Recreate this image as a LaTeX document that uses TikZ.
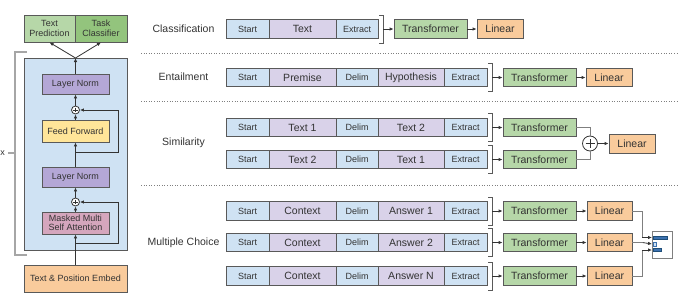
\documentclass[tikz,border=0pt]{standalone}
\usepackage{fontspec}
\setmainfont{Liberation Sans}
\usetikzlibrary{arrows.meta,calc}
\definecolor{tokb}{HTML}{CFE2F3}
\definecolor{tokp}{HTML}{D9D2E9}
\definecolor{tfg}{HTML}{B6D7A8}
\definecolor{tcg}{HTML}{93C47D}
\definecolor{lino}{HTML}{F9CB9C}
\definecolor{lnp}{HTML}{B4A7D6}
\definecolor{ffy}{HTML}{FFE599}
\definecolor{mmp}{HTML}{D5A6BD}
\definecolor{bord}{HTML}{595959}
\definecolor{txt}{HTML}{333333}
\definecolor{arrc}{HTML}{333333}
\definecolor{grl}{HTML}{7F7F7F}
\definecolor{brg}{HTML}{A6A6A6}
\definecolor{barb}{HTML}{3D72B0}
\definecolor{bard}{HTML}{1F4E79}
\newcommand\mybrk[2]{\draw[brkst] ({#1+1},{#2-14}) -- ({#1+5},{#2-14}) -- ({#1+5},{#2+14}) -- ({#1+1},{#2+14});}
\begin{document}
\begin{tikzpicture}[x=1pt,y=-1pt,
  box/.style={draw=bord,line width=0.8pt,inner sep=0pt,text=txt,align=center},
  sm/.style={font=\fontsize{9}{10.5}\selectfont},
  lg/.style={font=\fontsize{10.5}{12}\selectfont},
  tokB/.style={box,sm,fill=tokb,minimum height=18.5pt},
  tokP/.style={box,lg,fill=tokp,minimum height=18.5pt},
  tfst/.style={box,lg,fill=tfg,minimum width=73pt,minimum height=18.5pt},
  linst/.style={box,lg,fill=lino,minimum width=46pt,minimum height=18.5pt},
  lbl/.style={text=txt,font=\fontsize{10.5}{12}\selectfont,inner sep=0pt},
  lp/.style={box,sm,minimum width=67pt},
  arr/.style={-{Latex[length=4pt,width=3.5pt]},line width=0.8pt,draw=arrc},
  gline/.style={line width=0.8pt,draw=grl},
  garr/.style={gline,-{Latex[length=4pt,width=3.5pt]}},
  brkst/.style={line width=0.8pt,draw=bord},
  sep/.style={line width=0.6pt,draw=grl,dotted},
  pc/.style={circle,draw=arrc,fill=white,line width=0.8pt,inner sep=0pt},
]
\useasboundingbox (0,0) rectangle (696,300);

% ---------------- left panel ----------------
\draw[line width=1.2pt,draw=brg] (27,52) -- (15,52) -- (15,255) -- (27,255);
\draw[line width=1.2pt,draw=brg] (8,153) -- (15,153);
\node[anchor=west,inner sep=0pt,text=txt,font=\fontsize{9}{10}\selectfont] (rep) at (0.3,153) {x};

\node[box,sm,fill=tokb,minimum width=103pt,minimum height=192pt] (big) at (75.5,154) {};
\node[box,sm,fill=tfg,minimum width=51pt,minimum height=27pt] (tpred) at (49.5,28.5) {Text\\[-1pt]Prediction};
\node[box,sm,fill=tcg,minimum width=52pt,minimum height=27pt] (tcls) at (101,28.5) {Task\\[-1pt]Classifier};
\node[lp,fill=lnp,minimum height=20pt] (ln2) at (75.5,84) {Layer Norm};
\node[pc,minimum size=8pt] (p2) at (75.5,110) {};
\node[lp,fill=ffy,minimum height=22pt] (ff) at (75.5,131) {Feed Forward};
\node[lp,fill=lnp,minimum height=20pt] (ln1) at (75.5,177) {Layer Norm};
\node[pc,minimum size=8pt] (p1) at (75.5,202) {};
\node[lp,fill=mmp,minimum height=22pt] (mm) at (75.5,223) {Masked Multi\\[-1pt]Self Attention};
\node[box,sm,fill=lino,minimum width=103pt,minimum height=27pt] (emb) at (75.5,278.5) {Text \& Position Embed};

\foreach \c in {p1,p2}{
  \draw[line width=0.8pt,draw=arrc] ($(\c.center)+(-2.4,0)$) -- ($(\c.center)+(2.4,0)$);
  \draw[line width=0.8pt,draw=arrc] ($(\c.center)+(0,-2.4)$) -- ($(\c.center)+(0,2.4)$);
}
\coordinate (apex) at (75.5,58);
\coordinate (r1) at (75.5,243);
\coordinate (r2) at (75.5,152);
\draw[arr] (emb.north) -- (mm.south);
\draw[arr] (mm.north) -- (p1.south);
\draw[arr] (p1.north) -- (ln1.south);
\draw[arr] (ln1.north) -- (ff.south);
\draw[arr] (ff.north) -- (p2.south);
\draw[arr] (p2.north) -- (ln2.south);
\draw[arr] (ln2.north) -- (apex);
\draw[arr] (apex) -- (tpred.south);
\draw[arr] (apex) -- (tcls.south);
\draw[arr] (r1) -- (118,243) |- (p1.east);
\draw[arr] (r2) -- (118,152) |- (p2.east);

% ---------------- separators ----------------
\draw[sep] (141,53) -- (678,53);
\draw[sep] (141,101) -- (678,101);
\draw[sep] (141,185) -- (678,185);

% ---------------- labels ----------------
\node[lbl] (lcls) at (183.5,29) {Classification};
\node[lbl] (lent) at (183.5,77) {Entailment};
\node[lbl] (lsim) at (183.5,143) {Similarity};
\node[lbl] (lmc) at (183.5,243) {Multiple Choice};

% ---------------- classification ----------------
\node[tokB,minimum width=43pt] (c1) at (247.5,29) {Start};
\node[tokP,minimum width=67pt] (c2) at (302.5,29) {Text};
\node[tokB,minimum width=42pt] (c3) at (357,29) {Extract};
\mybrk{378}{29}
\coordinate (cb) at (383,29);
\node[tfst] (ct) at (430.5,29) {Transformer};
\node[linst] (cl) at (500,29) {Linear};
\draw[arr] (cb) -- (ct.west);
\draw[arr] (ct.east) -- (cl.west);

% ---------------- entailment ----------------
\node[tokB,minimum width=43pt] (e1) at (247.5,77.5) {Start};
\node[tokP,minimum width=67pt] (e2) at (302.5,77.5) {Premise};
\node[tokB,minimum width=42pt] (e3) at (357,77.5) {Delim};
\node[tokP,minimum width=66pt] (e4) at (411,77.5) {Hypothesis};
\node[tokB,minimum width=43pt] (e5) at (465.5,77.5) {Extract};
\mybrk{487}{77.5}
\coordinate (eb) at (492,77.5);
\node[tfst] (et) at (539.5,77.5) {Transformer};
\node[linst] (el) at (609,77.5) {Linear};
\draw[arr] (eb) -- (et.west);
\draw[arr] (et.east) -- (el.west);

% ---------------- similarity ----------------
\node[tokB,minimum width=43pt] (sa1) at (247.5,127.5) {Start};
\node[tokP,minimum width=67pt] (sa2) at (302.5,127.5) {Text 1};
\node[tokB,minimum width=42pt] (sa3) at (357,127.5) {Delim};
\node[tokP,minimum width=66pt] (sa4) at (411,127.5) {Text 2};
\node[tokB,minimum width=43pt] (sa5) at (465.5,127.5) {Extract};
\mybrk{487}{127.5}
\coordinate (sab) at (492,127.5);
\node[tfst] (st1) at (539.5,127.5) {Transformer};
\draw[arr] (sab) -- (st1.west);

\node[tokB,minimum width=43pt] (sb1) at (247.5,159.5) {Start};
\node[tokP,minimum width=67pt] (sb2) at (302.5,159.5) {Text 2};
\node[tokB,minimum width=42pt] (sb3) at (357,159.5) {Delim};
\node[tokP,minimum width=66pt] (sb4) at (411,159.5) {Text 1};
\node[tokB,minimum width=43pt] (sb5) at (465.5,159.5) {Extract};
\mybrk{487}{159.5}
\coordinate (sbb) at (492,159.5);
\node[tfst] (st2) at (539.5,159.5) {Transformer};
\draw[arr] (sbb) -- (st2.west);

\node[pc,minimum size=15pt] (sp) at (590,143.5) {};
\draw[line width=1pt,draw=arrc] ($(sp.center)+(-4.5,0)$) -- ($(sp.center)+(4.5,0)$);
\draw[line width=1pt,draw=arrc] ($(sp.center)+(0,-4.5)$) -- ($(sp.center)+(0,4.5)$);
\node[linst,minimum height=19pt] (sl) at (632,143.5) {Linear};
\draw[gline] (st1.east) -| (sp.north);
\draw[gline] (st2.east) -| (sp.south);
\draw[arr] (sp.east) -- (sl.west);

% ---------------- multiple choice ----------------
\foreach \n/\yy/\ans in {1/211/Answer 1,2/242.5/Answer 2,3/276/Answer N}{
  \node[tokB,minimum width=43pt] (m\n a) at (247.5,\yy) {Start};
  \node[tokP,minimum width=67pt] (m\n b) at (302.5,\yy) {Context};
  \node[tokB,minimum width=42pt] (m\n c) at (357,\yy) {Delim};
  \node[tokP,minimum width=66pt] (m\n d) at (411,\yy) {\ans};
  \node[tokB,minimum width=43pt] (m\n e) at (465.5,\yy) {Extract};
  \mybrk{487}{\yy}
  \coordinate (m\n br) at (492,\yy);
  \node[tfst] (m\n t) at (539.5,\yy) {Transformer};
  \node[linst,minimum width=45pt] (m\n l) at (609.5,\yy) {Linear};
  \draw[arr] (m\n br) -- (m\n t.west);
  \draw[arr] (m\n t.east) -- (m\n l.west);
}

% softmax icon
\node[draw=grl,fill=white,line width=0.8pt,inner sep=0pt,minimum width=20pt,minimum height=27pt] (icon) at (662,244.5) {};
\fill[barb,draw=bard,line width=0.4pt] (653,236) rectangle (667,239.5);
\fill[tokb,draw=barb,line width=0.6pt] (653,242) rectangle (656,246);
\fill[barb,draw=bard,line width=0.4pt] (653,248) rectangle (661,251.5);
\coordinate (ic1) at (652,237.5);
\coordinate (ic2) at (652,244);
\coordinate (ic3) at (652,250);
\draw[gline] (m1l.east) -- ++(10,0) coordinate (k1) -- (k1 |- ic1);
\draw[arr] (k1 |- ic1) -- (ic1);
\draw[gline] (m2l.east) -- ($(m2l.east)+(10,0)$) coordinate (k2);
\draw[arr] (k2) -- (ic2);
\draw[gline] (m3l.east) -- ++(10,0) coordinate (k3) -- (k3 |- ic3);
\draw[arr] (k3 |- ic3) -- (ic3);
\end{tikzpicture}
\end{document}
